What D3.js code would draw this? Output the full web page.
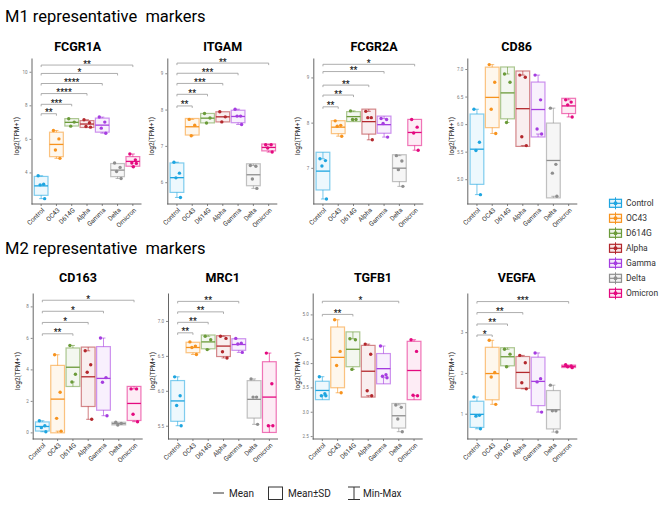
<!DOCTYPE html>
<html>
<head>
<meta charset="utf-8">
<script src="https://cdn.jsdelivr.net/npm/d3@7"></script>
<style>
body { margin: 0; background: #fff; }
text { font-family: Roboto, "Noto Sans", sans-serif; }
</style>
</head>
<body>
<svg id="chart" width="669" height="518"></svg>
<script>
// groups and colours
var groups = ["Control", "OC43", "D614G", "Alpha", "Gamma", "Delta", "Omicron"];
var groupColors = ["#1ea5e0", "#f7931e", "#6b9b3a", "#b3282d", "#a53de0", "#8f8f8f", "#e4097f"];

// M1 markers: replicate values per group, y ticks, significance brackets [target, stars, height]
var fcgr1aPoints = [[3.8, 3.3, 3.26, 2.44], [6.5, 6.0, 5.34, 4.84], [7.2, 7.0, 6.76], [7.14, 6.96, 6.74, 6.7],
                    [7.3, 7.0, 6.64, 6.34], [4.56, 4.3, 4.06, 3.64], [5.1, 4.75, 4.56, 4.54, 4.34]];
var fcgr1aTicks = [4, 6, 8, 10];
var fcgr1aTickLabels = ["4", "6", "8", "10"];
var fcgr1aSig = [["OC43", "**", 7.5], ["D614G", "***", 8.06], ["Alpha", "****", 8.7],
                 ["Gamma", "****", 9.3], ["Delta", "*", 9.9], ["Omicron", "**", 10.4]];

var itgamPoints = [[6.55, 6.25, 6.12, 5.58], [7.73, 7.57, 7.28], [7.89, 7.77, 7.63], [7.94, 7.8, 7.66],
                   [8.01, 7.82, 7.82, 7.59], [6.46, 6.44, 6.09, 5.83], [7.03, 7.03, 6.94, 6.83]];
var itgamTicks = [6, 7, 8, 9];
var itgamTickLabels = ["6", "7", "8", "9"];
var itgamSig = [["OC43", "**", 8.1], ["D614G", "**", 8.42], ["Alpha", "***", 8.72],
                ["Gamma", "***", 9.0], ["Omicron", "**", 9.28]];

var fcgr2aPoints = [[7.2, 7.16, 7.04, 6.31], [8.04, 7.94, 7.92, 7.7], [8.26, 8.07, 8.07], [8.25, 8.11, 8.11, 7.62],
                    [8.09, 8.07, 7.98, 7.68], [7.27, 7.15, 6.96, 6.59], [8.07, 7.9, 7.77, 7.39]];
var fcgr2aTicks = [7, 8, 9];
var fcgr2aTickLabels = ["7", "8", "9"];
var fcgr2aSig = [["OC43", "**", 8.35], ["D614G", "**", 8.61], ["Alpha", "**", 8.83],
                 ["Gamma", "**", 9.13], ["Omicron", "*", 9.29]];

var cd86Points = [[6.27, 5.67, 5.52, 4.72], [7.08, 6.76, 6.27, 5.83], [6.91, 6.76, 6.03], [6.89, 6.85, 5.77, 5.61],
                  [6.89, 6.44, 5.91, 5.82], [6.29, 5.27, 5.11, 4.69], [6.44, 6.4, 6.35, 6.13]];
var cd86Ticks = [5, 5.5, 6, 6.5, 7];
var cd86TickLabels = ["5.0", "5.5", "6.0", "6.5", "7.0"];
var cd86Sig = [];

// M2 markers
var cd163Points = [[0.74, 0.42, 0.3, 0.04], [4.93, 2.55, 0.89, 0.08], [5.52, 3.69, 3.2], [5.18, 4.29, 3.82, 0.83],
                   [5.99, 3.48, 3.18, 1.06], [0.64, 0.57, 0.47], [2.76, 2.76, 1.15, 0.68]];
var cd163Ticks = [0, 2, 4, 6, 8];
var cd163TickLabels = ["0", "2", "4", "6", "8"];
var cd163Sig = [["D614G", "**", 6.26], ["Alpha", "*", 6.98], ["Gamma", "*", 7.69], ["Omicron", "*", 8.39]];

var mrc1Points = [[6.2, 5.93, 5.79, 5.5], [6.7, 6.64, 6.62, 6.52], [6.78, 6.73, 6.59], [6.78, 6.75, 6.56, 6.47],
                  [6.75, 6.68, 6.67, 6.55], [6.17, 5.91, 5.91, 5.52], [6.54, 6.1, 5.5, 5.5]];
var mrc1Ticks = [5.5, 6, 6.5, 7];
var mrc1TickLabels = ["5.5", "6.0", "6.5", "7.0"];
var mrc1Sig = [["OC43", "**", 6.83], ["D614G", "**", 6.98], ["Alpha", "**", 7.13], ["Gamma", "**", 7.28]];

var tgfb1Points = [[3.72, 3.37, 3.33, 3.33], [4.89, 4.24, 3.95, 3.39], [4.5, 4.48, 3.87], [4.39, 4.18, 3.43, 3.33],
                   [4.35, 3.76, 3.73, 3.7], [3.14, 3.09, 2.85, 2.59], [4.48, 4.24, 3.34, 3.33]];
var tgfb1Ticks = [2.5, 3, 3.5, 4, 4.5, 5];
var tgfb1TickLabels = ["2.5", "3.0", "3.5", "4.0", "4.5", "5.0"];
var tgfb1Sig = [["D614G", "**", 5.0], ["Delta", "*", 5.27]];

var vegfaPoints = [[1.41, 0.96, 0.94, 0.63], [2.8, 2.01, 1.9, 1.23], [2.58, 2.46, 2.15], [2.43, 2.25, 1.76, 1.61],
                   [2.49, 1.86, 1.78, 1.04], [1.7, 1.07, 1.07, 0.55], [2.2, 2.17, 2.15, 2.13]];
var vegfaTicks = [1, 2, 3];
var vegfaTickLabels = ["1", "2", "3"];
var vegfaSig = [["OC43", "*", 2.93], ["D614G", "**", 3.2], ["Alpha", "**", 3.48], ["Omicron", "***", 3.75]];

// panel layout
var panels = [
  {name: "FCGR1A", pts: fcgr1aPoints, ticks: fcgr1aTicks, labels: fcgr1aTickLabels, sig: fcgr1aSig, domain: [2.12, 10.82], x0: 31.5, top: 58, bottom: 204, tx: 77.7, ty: 50.5},
  {name: "ITGAM", pts: itgamPoints, ticks: itgamTicks, labels: itgamTickLabels, sig: itgamSig, domain: [5.4, 9.42], x0: 167.3, top: 58, bottom: 204, tx: 222.7, ty: 50.5},
  {name: "FCGR2A", pts: fcgr2aPoints, ticks: fcgr2aTicks, labels: fcgr2aTickLabels, sig: fcgr2aSig, domain: [6.2, 9.43], x0: 313.3, top: 58, bottom: 204, tx: 374, ty: 50.5},
  {name: "CD86", pts: cd86Points, ticks: cd86Ticks, labels: cd86TickLabels, sig: cd86Sig, domain: [4.55, 7.2], x0: 467.3, top: 58, bottom: 204, tx: 516.7, ty: 50.5},
  {name: "CD163", pts: cd163Points, ticks: cd163Ticks, labels: cd163TickLabels, sig: cd163Sig, domain: [-0.42, 8.85], x0: 32.7, top: 293, bottom: 439, tx: 78, ty: 281.5},
  {name: "MRC1", pts: mrc1Points, ticks: mrc1Ticks, labels: mrc1TickLabels, sig: mrc1Sig, domain: [5.31, 7.4], x0: 168, top: 293, bottom: 439, tx: 222.7, ty: 281.5},
  {name: "TGFB1", pts: tgfb1Points, ticks: tgfb1Ticks, labels: tgfb1TickLabels, sig: tgfb1Sig, domain: [2.44, 5.44], x0: 312.7, top: 293, bottom: 439, tx: 373, ty: 281.5},
  {name: "VEGFA", pts: vegfaPoints, ticks: vegfaTicks, labels: vegfaTickLabels, sig: vegfaSig, domain: [0.38, 3.96], x0: 467.3, top: 293, bottom: 439, tx: 516.7, ty: 281.5}
];

// fixed horizontal spread for the replicate dots
var jitter = [-3, 2.5, -1, 3.5, 0.5];

var svg = d3.select("#chart");
var color = d3.scaleOrdinal().domain(groups).range(groupColors);

svg.append("text").attr("x", 5).attr("y", 22).attr("font-size", 16.5)
  .style("white-space", "pre").text("M1 representative  markers");
svg.append("text").attr("x", 5).attr("y", 254).attr("font-size", 16.5)
  .style("white-space", "pre").text("M2 representative  markers");

panels.forEach(drawPanel);

function drawPanel(p) {
  var g = svg.append("g");
  var x = d3.scaleBand().domain(groups).range([p.x0 + 2, p.x0 + 109]);
  var y = d3.scaleLinear().domain(p.domain).range([p.bottom, p.top]);
  var bw = x.bandwidth() * 0.9;

  g.append("text").attr("x", p.tx).attr("y", p.ty).attr("text-anchor", "middle")
    .attr("font-size", 12.5).attr("font-weight", "bold").text(p.name);

  // y axis
  var ya = g.append("g").attr("transform", "translate(" + p.x0 + ",0)")
    .call(d3.axisLeft(y).tickValues(p.ticks).tickFormat(function(d, i) { return p.labels[i]; })
      .tickSize(2).tickSizeOuter(0).tickPadding(2));
  ya.select(".domain").attr("stroke", "#555").attr("stroke-width", 0.9);
  ya.selectAll(".tick line").attr("stroke", "#888");
  ya.selectAll(".tick text").attr("font-size", 4.5).attr("fill", "#777").attr("font-family", "Roboto");

  g.append("text")
    .attr("transform", "translate(" + (p.x0 - 13) + "," + ((p.top + p.bottom) / 2 + 5) + ") rotate(-90)")
    .attr("text-anchor", "middle").attr("font-size", 6.5).attr("fill", "#222").text("log2(TPM+1)");

  // x axis
  var xa = g.append("g").attr("transform", "translate(0," + p.bottom + ")")
    .call(d3.axisBottom(x).tickSize(2).tickSizeOuter(0));
  xa.select(".domain").remove();
  xa.append("line").attr("x1", p.x0).attr("x2", p.x0 + 110).attr("stroke", "#555").attr("stroke-width", 0.9);
  xa.selectAll(".tick line").attr("stroke", "#888");
  xa.selectAll(".tick text")
    .attr("x", 0).attr("y", 0).attr("dy", "0.35em")
    .attr("transform", "translate(2,5) rotate(-45)")
    .style("text-anchor", "end")
    .attr("font-size", 6.5).attr("fill", "#333").attr("font-family", "Roboto");

  // summary per group
  var stats = groups.map(function(name, i) {
    var v = p.pts[i];
    var m = d3.mean(v), s = d3.deviation(v);
    return {name: name, vals: v, mean: m, lo: m - s, hi: m + s, min: d3.min(v), max: d3.max(v)};
  });

  var box = g.selectAll(".grp").data(stats).enter().append("g").attr("class", "grp");

  // whiskers to min / max
  box.each(function(d) {
    var sel = d3.select(this), cx = x(d.name) + x.bandwidth() / 2;
    [[d.max, d.hi], [d.min, d.lo]].forEach(function(w) {
      if (Math.abs(y(w[0]) - y(w[1])) < 0.5) return;
      sel.append("line").attr("x1", cx).attr("x2", cx).attr("y1", y(w[1])).attr("y2", y(w[0]))
        .attr("stroke", color(d.name)).attr("stroke-opacity", 0.6).attr("stroke-width", 1);
      sel.append("line").attr("x1", cx - 2).attr("x2", cx + 2).attr("y1", y(w[0])).attr("y2", y(w[0]))
        .attr("stroke", color(d.name)).attr("stroke-opacity", 0.6).attr("stroke-width", 1);
    });
  });

  box.append("rect")
    .attr("x", function(d) { return x(d.name) + (x.bandwidth() - bw) / 2; })
    .attr("width", bw)
    .attr("y", function(d) { return y(d.hi); })
    .attr("height", function(d) { return y(d.lo) - y(d.hi); })
    .attr("fill", function(d) { return color(d.name); }).attr("fill-opacity", 0.08)
    .attr("stroke", function(d) { return color(d.name); }).attr("stroke-opacity", 0.55)
    .attr("stroke-width", 1.2);

  box.append("line")
    .attr("x1", function(d) { return x(d.name) + (x.bandwidth() - bw) / 2; })
    .attr("x2", function(d) { return x(d.name) + (x.bandwidth() + bw) / 2; })
    .attr("y1", function(d) { return y(d.mean); })
    .attr("y2", function(d) { return y(d.mean); })
    .attr("stroke", function(d) { return color(d.name); }).attr("stroke-width", 1.3);

  box.selectAll("circle").data(function(d) { return d.vals.map(function(v) { return {name: d.name, v: v}; }); })
    .enter().append("circle")
    .attr("cx", function(d, i) { return x(d.name) + x.bandwidth() / 2 + jitter[i % jitter.length]; })
    .attr("cy", function(d) { return y(d.v); })
    .attr("r", 1.7)
    .attr("fill", function(d) { return color(d.name); });

  // significance brackets from Control
  var c0 = x("Control") + x.bandwidth() / 2;
  p.sig.forEach(function(s) {
    var c1 = x(s[0]) + x.bandwidth() / 2, yy = y(s[2]);
    g.append("path").attr("d", d3.line()([[c0, yy + 2], [c0, yy], [c1, yy], [c1, yy + 2]]))
      .attr("fill", "none").attr("stroke", "#999").attr("stroke-width", 0.8);
    g.append("text").attr("x", (c0 + c1) / 2).attr("y", yy + 1.5).attr("text-anchor", "middle")
      .attr("font-size", 8.5).attr("font-weight", "bold").attr("fill", "#222").text(s[1]);
  });
}

// group legend
var leg = svg.append("g").selectAll("g").data(groups).enter().append("g")
  .attr("transform", function(d, i) { return "translate(609.5," + (203.3 + i * 15) + ")"; });
leg.append("line").attr("x1", 6).attr("x2", 6).attr("y1", -6).attr("y2", 6)
  .attr("stroke", color).attr("stroke-width", 1);
leg.append("rect").attr("x", 0).attr("y", -4).attr("width", 12).attr("height", 8)
  .attr("fill", color).attr("fill-opacity", 0.12).attr("stroke", color).attr("stroke-width", 1.2);
leg.append("line").attr("x1", 0).attr("x2", 12).attr("y1", 0).attr("y2", 0)
  .attr("stroke", color).attr("stroke-width", 1.2);
leg.append("circle").attr("cx", 6).attr("cy", 0).attr("r", 2).attr("fill", color);
leg.append("text").attr("x", 16.5).attr("y", 3).attr("font-size", 8.5).attr("fill", "#333").text(function(d) { return d; });

// key for the box elements
var key = svg.append("g").attr("stroke", "#333").attr("fill", "none").attr("stroke-width", 1);
key.append("line").attr("x1", 213).attr("x2", 224).attr("y1", 493).attr("y2", 493);
key.append("rect").attr("x", 268.5).attr("y", 487).attr("width", 14).attr("height", 12.5);
key.append("path").attr("d", "M348,487H360M354,487V499.5M348,499.5H360");
var keyText = svg.append("g").attr("font-size", 10).attr("fill", "#222");
keyText.append("text").attr("x", 229).attr("y", 497).text("Mean");
keyText.append("text").attr("x", 288).attr("y", 497).text("Mean±SD");
keyText.append("text").attr("x", 363).attr("y", 497).text("Min-Max");
</script>
</body>
</html>
